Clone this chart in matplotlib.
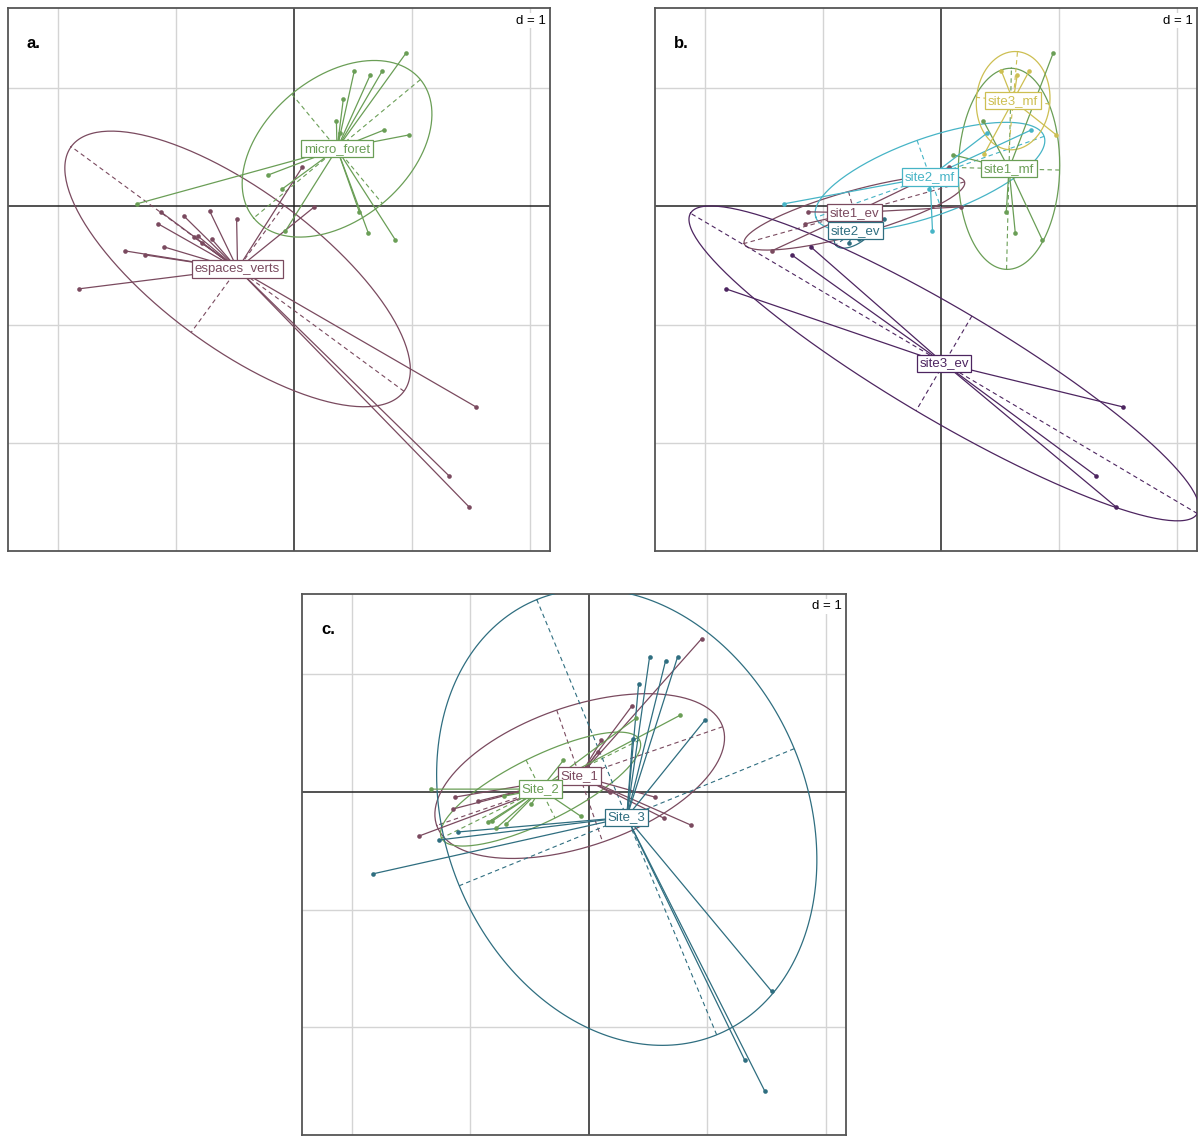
import numpy as np
import matplotlib

matplotlib.use("Agg")
import matplotlib.pyplot as plt

plt.rcParams["font.family"] = ["Liberation Sans", "DejaVu Sans"]

# relevé scores on the two first axes (grid step d = 1)
x_vals = [
    -1.127, -0.932, -1.148, -1.431, 0.074, 0.175,
    -0.713, -0.484, -0.848, -0.814, -0.696, -0.780,
    -1.101, -1.262, -1.820, 1.544, 1.316, 1.485,
    0.953, 0.361, 0.107, 0.555, 0.631, 0.860,
    0.395, 0.767, -0.096, -0.070, -1.330, -0.214,
    0.513, 0.648, 0.750, 0.978, 0.369, 0.420,
]
y_vals = [
    -0.046, -0.080, -0.148, -0.376, 0.334, -0.004,
    -0.038, -0.106, -0.258, -0.249, -0.275, -0.309,
    -0.342, -0.410, -0.697, -1.695, -2.278, -2.540,
    1.298, 0.723, 0.435, -0.046, -0.224, -0.283,
    0.621, 0.646, 0.148, -0.207, 0.021, 0.266,
    1.145, 1.111, 1.145, 0.604, 0.444, 0.909,
]
site = [
    1, 1, 1, 1, 1, 1, 2, 2, 2, 2, 2, 2, 3, 3, 3, 3, 3, 3,
    1, 1, 1, 1, 1, 1, 2, 2, 2, 2, 2, 2, 3, 3, 3, 3, 3, 3,
]
habitat = [
    "ev", "ev", "ev", "ev", "ev", "ev", "ev", "ev", "ev",
    "ev", "ev", "ev", "ev", "ev", "ev", "ev", "ev", "ev",
    "mf", "mf", "mf", "mf", "mf", "mf", "mf", "mf", "mf",
    "mf", "mf", "mf", "mf", "mf", "mf", "mf", "mf", "mf",
]

habitat_labels = {"ev": "espaces_verts", "mf": "micro_foret"}
site_labels = {1: "Site_1", 2: "Site_2", 3: "Site_3"}

MAROON = "#7a4a5f"
GREEN = "#6a9e56"
TEAL = "#2f6e80"
PURPLE = "#4d2560"
CYAN = "#46b4c6"
YELLOW = "#cdbf52"

XLIM = (-2.42, 2.17)
YLIM = (-2.912, 1.676)

xs = np.asarray(x_vals)
ys = np.asarray(y_vals)
site = np.asarray(site)
habitat = np.asarray(habitat)


def draw_group(ax, mask, label, color):
    gx, gy = xs[mask], ys[mask]
    mx, my = gx.mean(), gy.mean()
    cov = np.cov(gx, gy, bias=True)
    vals, vecs = np.linalg.eigh(cov)
    vals = np.clip(vals, 0, None)
    a = 1.5 * np.sqrt(vals[1])
    b = 1.5 * np.sqrt(vals[0])
    v1, v2 = vecs[:, 1], vecs[:, 0]
    t = np.linspace(0, 2 * np.pi, 240)
    ex = mx + a * np.cos(t) * v1[0] + b * np.sin(t) * v2[0]
    ey = my + a * np.cos(t) * v1[1] + b * np.sin(t) * v2[1]
    ax.plot(ex, ey, color=color, lw=0.9, zorder=3)
    for r, v in ((a, v1), (b, v2)):
        ax.plot([mx - r * v[0], mx + r * v[0]], [my - r * v[1], my + r * v[1]],
                color=color, lw=0.8, ls=(0, (4, 3)), zorder=3)
    for px, py in zip(gx, gy):
        ax.plot([mx, px], [my, py], color=color, lw=0.9, zorder=4)
    ax.scatter(gx, gy, s=11, color=color, zorder=5, linewidths=0)
    return mx, my


def draw_label(ax, mx, my, label, color):
    ax.text(mx, my, label, color=color, fontsize=9.5, ha="center", va="center", zorder=8,
            bbox=dict(boxstyle="square,pad=0.2", fc="white", ec=color, lw=0.9))


def base(ax, tag):
    ax.set_xlim(*XLIM)
    ax.set_ylim(*YLIM)
    for g in (-2, -1, 1, 2):
        ax.axvline(g, color="#d4d4d4", lw=1.0, zorder=1)
    for g in (-2, -1, 1):
        ax.axhline(g, color="#d4d4d4", lw=1.0, zorder=1)
    ax.axvline(0, color="#222222", lw=1.1, zorder=2)
    ax.axhline(0, color="#222222", lw=1.1, zorder=2)
    ax.set_xticks([])
    ax.set_yticks([])
    for sp in ax.spines.values():
        sp.set_color("#555555")
        sp.set_linewidth(1.3)
    ax.text(0.993, 0.988, "d = 1", transform=ax.transAxes, ha="right", va="top",
            fontsize=9.5, zorder=9,
            bbox=dict(boxstyle="square,pad=0.15", fc="white", ec="none"))
    ax.text(0.035, 0.935, tag, transform=ax.transAxes, ha="left", va="center",
            fontsize=12, fontweight="bold", zorder=9)


fig = plt.figure(figsize=(11.98, 11.36), dpi=100)
ax_a = fig.add_axes([8 / 1198, 1 - 551 / 1136, 542 / 1198, 543 / 1136])
ax_b = fig.add_axes([655 / 1198, 1 - 551 / 1136, 542 / 1198, 543 / 1136])
ax_c = fig.add_axes([302 / 1198, 1 - 1135 / 1136, 544 / 1198, 541 / 1136])

# a. habitat
base(ax_a, "a.")
groups_a = [("ev", MAROON), ("mf", GREEN)]
centres = []
for key, col in groups_a:
    mx, my = draw_group(ax_a, habitat == key, habitat_labels[key], col)
    centres.append((mx, my, habitat_labels[key], col))
for mx, my, lab, col in centres:
    draw_label(ax_a, mx, my, lab, col)

# b. site x habitat
base(ax_b, "b.")
groups_b = [
    (1, "ev", MAROON), (2, "ev", TEAL), (3, "ev", PURPLE),
    (1, "mf", GREEN), (2, "mf", CYAN), (3, "mf", YELLOW),
]
centres = []
for s, h, col in groups_b:
    lab = f"site{s}_{h}"
    mx, my = draw_group(ax_b, (site == s) & (habitat == h), lab, col)
    centres.append((mx, my, lab, col))
for mx, my, lab, col in centres:
    draw_label(ax_b, mx, my, lab, col)

# c. site
base(ax_c, "c.")
groups_c = [(1, MAROON), (2, GREEN), (3, TEAL)]
centres = []
for s, col in groups_c:
    mx, my = draw_group(ax_c, site == s, site_labels[s], col)
    centres.append((mx, my, site_labels[s], col))
for mx, my, lab, col in centres:
    draw_label(ax_c, mx, my, lab, col)

fig.savefig("out.png", dpi=100)
plt.close(fig)
